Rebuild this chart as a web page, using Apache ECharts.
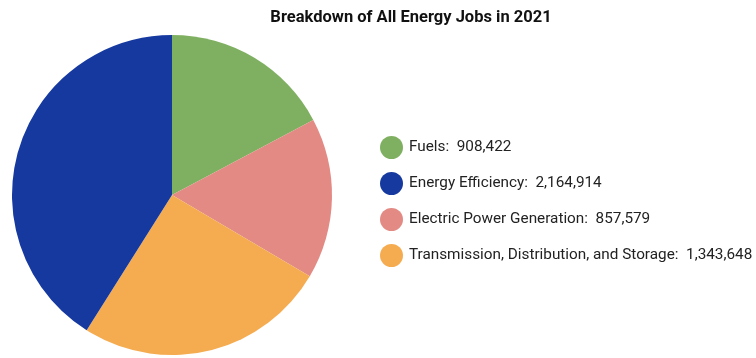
<!DOCTYPE html>
<html>
<head>
<meta charset="utf-8">
<script src="https://cdn.jsdelivr.net/npm/echarts@6/dist/echarts.min.js"></script>
<style>
  html, body { margin: 0; padding: 0; background: #ffffff; }
  #chart { width: 756px; height: 358px; }
</style>
</head>
<body>
<div id="chart"></div>
<script>
// Energy jobs by sector, 2021 (slice order clockwise from 12 o'clock)
const sectors = ["Fuels", "Electric Power Generation", "Transmission, Distribution, and Storage", "Energy Efficiency"];
const jobs = [908422, 857579, 1343648, 2164914];
const sectorColors = ["#7fb061", "#e38a84", "#f5ac51", "#1639a0"];
// Legend listing order
const legendOrder = ["Fuels", "Energy Efficiency", "Electric Power Generation", "Transmission, Distribution, and Storage"];

const jobsByName = {};
sectors.forEach((s, i) => { jobsByName[s] = jobs[i]; });

const chart = echarts.init(document.getElementById('chart'), null, { renderer: 'canvas' });
chart.setOption({
  animation: false,
  backgroundColor: '#ffffff',
  title: {
    text: 'Breakdown of All Energy Jobs in 2021',
    left: 406,
    top: 4,
    textAlign: 'center',
    textStyle: { fontFamily: 'Roboto', fontWeight: 'bold', fontSize: 16.5, color: '#111111' }
  },
  legend: {
    orient: 'vertical',
    left: 375,
    top: 131,
    icon: 'circle',
    itemWidth: 23,
    itemHeight: 23,
    itemGap: 13,
    data: legendOrder,
    formatter: name => name + ':  ' + jobsByName[name].toLocaleString('en-US'),
    textStyle: { fontFamily: 'Roboto', fontSize: 15.3, color: '#222222', padding: [0, 0, 0, 1] }
  },
  series: [{
    type: 'pie',
    center: [172, 195],
    radius: 160,
    startAngle: 90,
    clockwise: true,
    label: { show: false },
    labelLine: { show: false },
    data: sectors.map((s, i) => ({ name: s, value: jobs[i], itemStyle: { color: sectorColors[i] } }))
  }]
});
</script>
</body>
</html>
